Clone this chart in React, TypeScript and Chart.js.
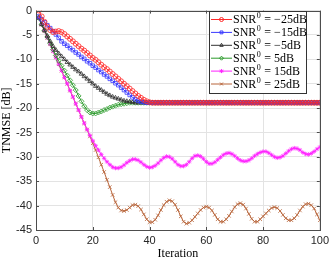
import React, { useEffect, useRef } from "react";
import { Chart, registerables } from "chart.js";
import { drawPoint } from "chart.js/helpers";

Chart.register(...registerables);

const iterations: number[] = Array.from({ length: 100 }, (_, i) => i + 1);

const snrLabels = ["−25", "−15", "−5", "5", "15", "25"];

const snrM25 = [
  0, -1.2, -2.3, -3.3, -4.0, -4.4, -4.3, -4.2, -4.4, -4.8,
  -5.3, -5.8, -6.3, -6.8, -7.3, -7.8, -8.2, -8.7, -9.2, -9.7,
  -10.1, -10.6, -11.1, -11.6, -12.0, -12.5, -13.0, -13.5, -14.0, -14.5,
  -15.0, -15.5, -16.0, -16.5, -17.0, -17.5, -17.9, -18.3, -18.6, -18.8,
  -18.9, -18.9, -18.9, -18.9, -18.9, -18.9, -18.9, -18.9, -18.9, -18.9,
  -18.9, -18.9, -18.9, -18.9, -18.9, -18.9, -18.9, -18.9, -18.9, -18.9,
  -18.9, -18.9, -18.9, -18.9, -18.9, -18.9, -18.9, -18.9, -18.9, -18.9,
  -18.9, -18.9, -18.9, -18.9, -18.9, -18.9, -18.9, -18.9, -18.9, -18.9,
  -18.9, -18.9, -18.9, -18.9, -18.9, -18.9, -18.9, -18.9, -18.9, -18.9,
  -18.9, -18.9, -18.9, -18.9, -18.9, -18.9, -18.9, -18.9, -18.9, -18.9,
];

const snrM15 = [
  -1.2, -1.8, -2.4, -3.0, -3.6, -4.2, -4.9, -5.6, -6.3, -6.8,
  -7.2, -7.7, -8.1, -8.6, -9.0, -9.5, -9.9, -10.4, -10.8, -11.3,
  -11.7, -12.2, -12.6, -13.1, -13.5, -14.0, -14.4, -14.9, -15.3, -15.8,
  -16.3, -16.8, -17.3, -17.8, -18.2, -18.5, -18.7, -18.8, -18.9, -18.9,
  -18.9, -18.9, -18.9, -18.9, -18.9, -18.9, -18.9, -18.9, -18.9, -18.9,
  -18.9, -18.9, -18.9, -18.9, -18.9, -18.9, -18.9, -18.9, -18.9, -18.9,
  -18.9, -18.9, -18.9, -18.9, -18.9, -18.9, -18.9, -18.9, -18.9, -18.9,
  -18.9, -18.9, -18.9, -18.9, -18.9, -18.9, -18.9, -18.9, -18.9, -18.9,
  -18.9, -18.9, -18.9, -18.9, -18.9, -18.9, -18.9, -18.9, -18.9, -18.9,
  -18.9, -18.9, -18.9, -18.9, -18.9, -18.9, -18.9, -18.9, -18.9, -18.9,
];

const snrM5 = [
  -1.5, -2.8, -4.0, -5.2, -6.3, -7.3, -8.1, -8.8, -9.4, -10.0,
  -10.6, -11.1, -11.6, -12.1, -12.5, -13.0, -13.5, -14.0, -14.5, -15.0,
  -15.5, -15.9, -16.3, -16.7, -17.1, -17.4, -17.7, -17.9, -18.1, -18.3,
  -18.5, -18.6, -18.7, -18.8, -18.9, -18.9, -18.9, -18.9, -18.9, -18.9,
  -18.9, -18.9, -18.9, -18.9, -18.9, -18.9, -18.9, -18.9, -18.9, -18.9,
  -18.9, -18.9, -18.9, -18.9, -18.9, -18.9, -18.9, -18.9, -18.9, -18.9,
  -18.9, -18.9, -18.9, -18.9, -18.9, -18.9, -18.9, -18.9, -18.9, -18.9,
  -18.9, -18.9, -18.9, -18.9, -18.9, -18.9, -18.9, -18.9, -18.9, -18.9,
  -18.9, -18.9, -18.9, -18.9, -18.9, -18.9, -18.9, -18.9, -18.9, -18.9,
  -18.9, -18.9, -18.9, -18.9, -18.9, -18.9, -18.9, -18.9, -18.9, -18.9,
];

const snrP5 = [
  -1.5, -2.8, -4.1, -5.4, -6.7, -8.0, -9.2, -10.3, -11.3, -12.3,
  -13.3, -14.3, -15.3, -16.3, -17.5, -18.6, -19.6, -20.4, -20.9, -21.1,
  -21.1, -20.9, -20.7, -20.4, -20.2, -19.9, -19.7, -19.5, -19.3, -19.2,
  -19.1, -19.0, -18.9, -18.9, -18.9, -18.9, -18.9, -18.9, -18.9, -18.9,
  -18.9, -18.9, -18.9, -18.9, -18.9, -18.9, -18.9, -18.9, -18.9, -18.9,
  -18.9, -18.9, -18.9, -18.9, -18.9, -18.9, -18.9, -18.9, -18.9, -18.9,
  -18.9, -18.9, -18.9, -18.9, -18.9, -18.9, -18.9, -18.9, -18.9, -18.9,
  -18.9, -18.9, -18.9, -18.9, -18.9, -18.9, -18.9, -18.9, -18.9, -18.9,
  -18.9, -18.9, -18.9, -18.9, -18.9, -18.9, -18.9, -18.9, -18.9, -18.9,
  -18.9, -18.9, -18.9, -18.9, -18.9, -18.9, -18.9, -18.9, -18.9, -18.9,
];

const snrP15 = [
  -1.5, -2.9, -4.2, -5.6, -6.9, -8.3, -9.6, -11.0, -12.3, -13.7,
  -15.0, -16.4, -17.7, -19.1, -20.4, -21.8, -23.1, -24.4, -25.6, -26.7,
  -27.7, -28.6, -29.5, -30.3, -31.0, -31.6, -32.1, -32.3, -32.3, -32.1,
  -31.7, -31.2, -30.8, -30.5, -30.5, -30.7, -31.1, -31.6, -32.0, -32.2,
  -32.1, -31.8, -31.3, -30.7, -30.2, -29.9, -30.0, -30.4, -31.0, -31.6,
  -31.9, -31.9, -31.6, -31.0, -30.3, -29.8, -29.7, -29.9, -30.4, -31.0,
  -31.4, -31.4, -31.1, -30.6, -30.1, -29.6, -29.3, -29.2, -29.4, -29.8,
  -30.3, -30.7, -30.9, -30.9, -30.7, -30.3, -29.8, -29.4, -29.1, -28.9,
  -28.9, -29.2, -29.6, -30.0, -30.2, -30.1, -29.8, -29.3, -28.8, -28.4,
  -28.2, -28.3, -28.6, -29.1, -29.4, -29.5, -29.3, -28.9, -28.4, -28.0,
];

const snrP25 = [
  -1.5, -2.9, -4.2, -5.6, -6.9, -8.3, -9.6, -11.0, -12.3, -13.7,
  -15.0, -16.4, -17.7, -19.1, -20.4, -21.8, -23.1, -24.4, -25.8, -27.2,
  -28.6, -30.1, -31.6, -33.1, -34.7, -36.2, -37.8, -39.3, -40.4, -41.0,
  -41.1, -40.9, -40.4, -39.9, -39.8, -40.1, -40.8, -41.8, -42.8, -43.4,
  -43.4, -42.9, -42.0, -40.9, -39.9, -39.2, -38.9, -39.1, -39.8, -40.9,
  -42.2, -43.3, -43.7, -43.5, -43.0, -42.3, -41.6, -40.9, -40.4, -40.2,
  -40.4, -41.0, -41.9, -42.8, -43.3, -43.3, -42.8, -42.1, -41.2, -40.3,
  -39.7, -39.5, -39.8, -40.6, -41.7, -42.7, -43.3, -43.3, -42.8, -42.2,
  -41.6, -41.0, -40.5, -40.3, -40.5, -41.1, -41.9, -42.6, -43.0, -43.0,
  -42.6, -41.9, -41.0, -40.2, -39.7, -39.6, -39.9, -40.6, -41.8, -43.0,
];

const xTicks = [0, 20, 40, 60, 80, 100];
const yTicks = [0, -5, -10, -15, -20, -25, -30, -35, -40, -45];

const seriesValues = [snrM25, snrM15, snrM5, snrP5, snrP15, snrP25];
const seriesColors = ["#ff2a2a", "#3a3aff", "#333333", "#2a9a2a", "#ff22ff", "#b8643a"];
const seriesMarkers = ["circle", "rect", "triangle", "rectRot", "star", "crossRot"];

const frameLegendPlugin = {
  id: "frameLegend",
  afterDatasetsDraw(chart: any) {
    const { ctx, chartArea } = chart;
    const { left, right, top, bottom } = chartArea;
    ctx.save();
    // frame
    ctx.strokeStyle = "#4d4d4d";
    ctx.lineWidth = 1;
    ctx.strokeRect(Math.round(left) + 0.5, Math.round(top) + 0.5, Math.round(right - left), Math.round(bottom - top));
    // inward ticks
    const xs = chart.scales.x;
    const ys = chart.scales.y;
    ctx.beginPath();
    xTicks.forEach((t) => {
      const px = Math.round(xs.getPixelForValue(t)) + 0.5;
      ctx.moveTo(px, bottom);
      ctx.lineTo(px, bottom - 3);
      ctx.moveTo(px, top);
      ctx.lineTo(px, top + 3);
    });
    yTicks.forEach((t) => {
      const py = Math.round(ys.getPixelForValue(t)) + 0.5;
      ctx.moveTo(left, py);
      ctx.lineTo(left + 3, py);
      ctx.moveTo(right, py);
      ctx.lineTo(right - 3, py);
    });
    ctx.stroke();

    // legend
    const bx = 209.5, by = 11.5, bw = 97, bh = 82;
    ctx.fillStyle = "#ffffff";
    ctx.fillRect(bx, by, bw, bh);
    ctx.strokeStyle = "#333333";
    ctx.strokeRect(bx, by, bw, bh);
    chart.data.datasets.forEach((ds: any, i: number) => {
      const cy = 19.5 + i * 12.9;
      ctx.strokeStyle = ds.borderColor;
      ctx.lineWidth = 1;
      ctx.beginPath();
      ctx.moveTo(211, cy);
      ctx.lineTo(232, cy);
      ctx.stroke();
      ctx.fillStyle = ds.pointBackgroundColor;
      drawPoint(ctx, { pointStyle: ds.pointStyle, rotation: 0, radius: 2, borderWidth: 1 } as any, 221.5, cy);
      ctx.fillStyle = "#000000";
      ctx.textBaseline = "middle";
      ctx.textAlign = "left";
      let x = 233;
      ctx.font = "12px 'Liberation Serif'";
      ctx.fillText("SNR", x, cy + 0.5);
      x += ctx.measureText("SNR").width;
      ctx.font = "8px 'Liberation Serif'";
      ctx.fillText("0", x + 0.5, cy - 3.5);
      x += ctx.measureText("0").width + 1;
      ctx.font = "12px 'Liberation Serif'";
      const rest = " = " + snrLabels[i] + "dB";
      ctx.fillText(rest, x, cy + 0.5);
    });
    ctx.restore();
  },
};

export default function App() {
  const canvasRef = useRef<HTMLCanvasElement | null>(null);

  useEffect(() => {
    const canvas = canvasRef.current;
    if (!canvas) return;
    const datasets = seriesValues.map((vals, i) => ({
      label: "SNR0 = " + snrLabels[i] + "dB",
      data: vals.map((v, j) => ({ x: iterations[j], y: v })),
      borderColor: seriesColors[i],
      backgroundColor: seriesColors[i],
      pointBackgroundColor: i === 4 ? seriesColors[i] : "rgba(255,255,255,0)",
      pointBorderColor: seriesColors[i],
      pointStyle: seriesMarkers[i],
      pointRadius: i === 4 ? 2.2 : 2.5,
      pointBorderWidth: 0.8,
      borderWidth: 1,
      tension: 0,
      fill: false,
    }));

    const chart = new Chart(canvas, {
      type: "line",
      data: { datasets },
      options: {
        animation: false,
        responsive: false,
        devicePixelRatio: 1,
        layout: { padding: { top: 7, right: 12, left: 0, bottom: 0 } },
        plugins: { legend: { display: false }, tooltip: { enabled: false } },
        scales: {
          x: {
            type: "linear",
            min: 0,
            max: 100,
            afterFit: (s: any) => { s.height = 31; },
            afterBuildTicks: (s: any) => { s.ticks = xTicks.map((v) => ({ value: v })); },
            grid: { color: "#e3e3e3", drawTicks: false },
            border: { display: false },
            ticks: { padding: 4, color: "#262626", font: { family: "'Liberation Sans'", size: 11 }, maxRotation: 0 },
            title: { display: true, text: "Iteration", color: "#000", padding: { top: 0, bottom: 0 }, font: { family: "'Liberation Serif'", size: 12 } },
          },
          y: {
            type: "linear",
            min: -45,
            max: 0,
            afterFit: (s: any) => { s.width = 36; },
            afterBuildTicks: (s: any) => { s.ticks = yTicks.map((v) => ({ value: v })); },
            grid: { color: "#e3e3e3", drawTicks: false },
            border: { display: false },
            ticks: { padding: 4, color: "#262626", font: { family: "'Liberation Sans'", size: 11 } },
            title: { display: true, text: "TNMSE [dB]", color: "#000", padding: { top: 0, bottom: 0 }, font: { family: "'Liberation Serif'", size: 12 } },
          },
        },
      },
      plugins: [frameLegendPlugin],
    } as any);
    return () => chart.destroy();
  }, []);

  return (
    <div style={{ position: "absolute", left: 0, top: 0, width: 333, height: 261, background: "#fff" }}>
      <canvas ref={canvasRef} width={333} height={261} style={{ display: "block" }} />
    </div>
  );
}
